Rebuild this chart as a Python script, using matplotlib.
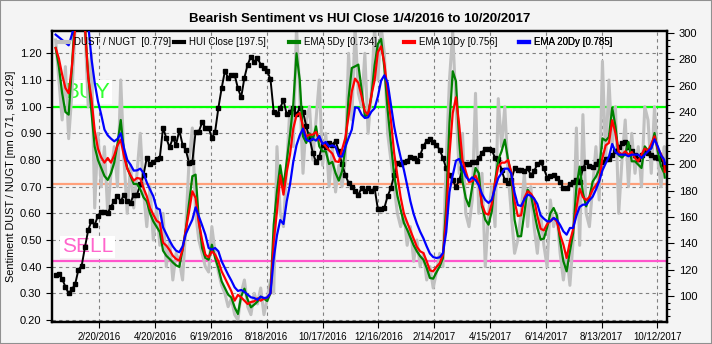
import matplotlib
matplotlib.use('Agg')
import matplotlib.pyplot as plt
import matplotlib.ticker as mticker
import pandas as pd
from matplotlib.lines import Line2D
from matplotlib.patches import Rectangle

plt.rcParams['font.family'] = ['Liberation Sans', 'DejaVu Sans']

start_date = '2016-01-04'
end_date = '2017-10-20'

# half-weekly readings (every 3.5 days from 2016-01-04) plus the final day 2017-10-20
hui_close = [116, 117, 113, 107, 102, 105, 109, 120, 123, 137,
             150, 157, 154, 161, 164, 164, 163, 168, 172, 176,
             172, 177, 172, 171, 177, 177, 185, 192, 205, 200,
             202, 204, 205, 228, 220, 213, 220, 215, 226, 215,
             211, 201, 202, 225, 225, 232, 228, 228, 220, 225,
             243, 258, 271, 266, 268, 268, 258, 251, 266, 276,
             282, 278, 281, 276, 273, 271, 265, 240, 238, 243,
             249, 238, 240, 243, 238, 243, 240, 229, 220, 209,
             202, 206, 215, 213, 216, 215, 218, 210, 200, 192,
             186, 183, 180, 177, 182, 180, 182, 180, 182, 166,
             166, 167, 176, 182, 192, 201, 200, 202, 203, 206,
             205, 203, 207, 214, 218, 219, 217, 215, 211, 205,
             197, 192, 188, 183, 188, 197, 200, 200, 202, 202,
             205, 209, 212, 212, 211, 205, 204, 196, 188, 186,
             188, 197, 196, 196, 195, 197, 192, 195, 200, 202,
             197, 190, 191, 192, 190, 187, 182, 182, 185, 187,
             188, 187, 197, 202, 199, 198, 200, 203, 202, 204,
             204, 207, 210, 213, 216, 217, 213, 210, 207, 204,
             207, 210, 209, 207, 206, 205, 204, 200,
             197.5]

ema5 = [1.22, 1.15, 1.05, 0.98, 0.97, 1.15, 1.35, 1.40, 1.40, 1.30,
        1.12, 0.98, 0.85, 0.80, 0.77, 0.74, 0.725, 0.75, 0.79, 0.86,
        0.95, 0.83, 0.77, 0.74, 0.71, 0.71, 0.69, 0.66, 0.645, 0.60,
        0.57, 0.55, 0.53, 0.46, 0.441, 0.429, 0.416, 0.405, 0.399, 0.464,
        0.539, 0.639, 0.739, 0.745, 0.576, 0.47, 0.4325, 0.426, 0.4825, 0.4325,
        0.395, 0.345, 0.32, 0.295, 0.284, 0.2475, 0.2225, 0.289, 0.3175, 0.276,
        0.2475, 0.2575, 0.269, 0.2875, 0.28, 0.271, 0.30, 0.5575, 0.6825, 0.78,
        0.70, 0.795, 0.895, 1.0075, 1.20, 1.10, 0.889, 0.864, 0.90, 0.876,
        0.926, 0.851, 0.8325, 0.8325, 0.785, 0.7925, 0.751, 0.7225, 0.7575, 0.845,
        1.0325, 1.145, 1.151, 1.1575, 1.064, 0.964, 0.97, 1.039, 1.155, 1.235,
        1.254, 1.145, 0.989, 0.864, 0.745, 0.666, 0.614, 0.564, 0.539, 0.51,
        0.48, 0.4575, 0.439, 0.426, 0.395, 0.3575, 0.355, 0.379, 0.401, 0.4325,
        0.6325, 0.939, 1.1325, 1.095, 0.87, 0.72, 0.6575, 0.626, 0.70, 0.77,
        0.751, 0.625, 0.576, 0.5575, 0.6075, 0.72, 0.801, 0.8325, 0.876, 0.801,
        0.745, 0.576, 0.514, 0.514, 0.601, 0.689, 0.67, 0.6075, 0.545, 0.5025,
        0.505, 0.5475, 0.60, 0.62, 0.5925, 0.495, 0.42, 0.3825, 0.4575, 0.526,
        0.70, 0.775, 0.676, 0.626, 0.661, 0.719, 0.7375, 0.764, 0.881, 0.8725,
        0.886, 0.996, 0.926, 0.8175, 0.809, 0.8225, 0.8675, 0.795, 0.795, 0.7825,
        0.77, 0.851, 0.835, 0.844, 0.901, 0.8325, 0.776, 0.75,
        0.734]

ema10 = [1.22, 1.18, 1.12, 1.07, 1.05, 1.15, 1.30, 1.40, 1.40, 1.30,
         1.11, 1.03, 0.91, 0.8425, 0.81, 0.79, 0.8075, 0.79, 0.8175, 0.855,
         0.876, 0.814, 0.7675, 0.7425, 0.7225, 0.7325, 0.73, 0.695, 0.664, 0.62,
         0.595, 0.5725, 0.564, 0.49, 0.479, 0.4625, 0.441, 0.429, 0.4225, 0.464,
         0.539, 0.6075, 0.6825, 0.6575, 0.564, 0.50, 0.445, 0.435, 0.4575, 0.445,
         0.42, 0.3825, 0.3575, 0.3325, 0.3075, 0.2725, 0.294, 0.285, 0.2725, 0.26,
         0.2675, 0.27, 0.281, 0.2725, 0.28, 0.284, 0.30, 0.495, 0.6075, 0.7425,
         0.67, 0.755, 0.82, 0.9175, 0.9675, 0.976, 0.926, 0.8875, 0.895, 0.895,
         0.905, 0.876, 0.864, 0.851, 0.836, 0.824, 0.795, 0.7925, 0.839, 0.8825,
         0.964, 1.0575, 1.105, 1.089, 1.039, 0.9825, 0.97, 1.041, 1.099, 1.204,
         1.226, 1.1625, 1.0575, 0.95, 0.826, 0.741, 0.66, 0.599, 0.566, 0.535,
         0.505, 0.474, 0.4575, 0.451, 0.42, 0.386, 0.3825, 0.399, 0.4125, 0.445,
         0.5825, 0.82, 0.976, 1.035, 0.93, 0.80, 0.7575, 0.7175, 0.72, 0.741,
         0.714, 0.6325, 0.60, 0.595, 0.635, 0.714, 0.775, 0.79, 0.79, 0.80,
         0.754, 0.645, 0.59, 0.5925, 0.6575, 0.6825, 0.674, 0.655, 0.59, 0.5425,
         0.536, 0.56, 0.571, 0.5825, 0.569, 0.519, 0.4825, 0.4325, 0.494, 0.54,
         0.62, 0.6925, 0.661, 0.649, 0.661, 0.689, 0.705, 0.7225, 0.8075, 0.855,
         0.864, 0.949, 0.90, 0.831, 0.82, 0.8325, 0.82, 0.83, 0.8075, 0.795,
         0.82, 0.8425, 0.834, 0.86, 0.889, 0.8425, 0.8225, 0.79,
         0.756]

ema20 = [1.27, 1.26, 1.25, 1.24, 1.23, 1.27, 1.32, 1.36, 1.38, 1.36,
         1.31, 1.18, 1.09, 1.02, 0.97, 0.914, 0.8925, 0.88, 0.87, 0.879,
         0.90, 0.845, 0.80, 0.7825, 0.76, 0.761, 0.7675, 0.751, 0.716, 0.689,
         0.664, 0.62, 0.614, 0.5475, 0.5225, 0.4975, 0.476, 0.46, 0.454, 0.476,
         0.5225, 0.55, 0.576, 0.6225, 0.589, 0.555, 0.52, 0.47, 0.464, 0.47,
         0.4575, 0.42, 0.395, 0.37, 0.3475, 0.3225, 0.309, 0.3125, 0.306, 0.295,
         0.285, 0.2825, 0.276, 0.2875, 0.2825, 0.284, 0.30, 0.43, 0.5175, 0.575,
         0.56, 0.645, 0.7075, 0.7925, 0.855, 0.8925, 0.9175, 0.876, 0.87, 0.88,
         0.8725, 0.89, 0.86, 0.8675, 0.851, 0.855, 0.849, 0.814, 0.8125, 0.849,
         0.8825, 0.914, 0.9975, 0.995, 0.97, 0.9575, 0.96, 0.981, 0.994, 1.0375,
         1.0975, 1.1175, 1.09, 1.0075, 0.926, 0.864, 0.81, 0.7625, 0.705, 0.645,
         0.5975, 0.561, 0.531, 0.506, 0.476, 0.449, 0.436, 0.4325, 0.435, 0.451,
         0.53, 0.68, 0.7425, 0.7975, 0.804, 0.77, 0.739, 0.7225, 0.735, 0.725,
         0.705, 0.6725, 0.65, 0.639, 0.651, 0.695, 0.7325, 0.751, 0.7675, 0.7675,
         0.749, 0.6775, 0.631, 0.6275, 0.6525, 0.67, 0.666, 0.655, 0.635, 0.5925,
         0.58, 0.57, 0.57, 0.5825, 0.575, 0.556, 0.5325, 0.52, 0.545, 0.545,
         0.591, 0.624, 0.6325, 0.6325, 0.649, 0.6625, 0.689, 0.72, 0.761, 0.7875,
         0.8125, 0.86, 0.83, 0.82, 0.82, 0.82, 0.814, 0.82, 0.82, 0.82,
         0.8075, 0.82, 0.8325, 0.844, 0.8775, 0.851, 0.8175, 0.80,
         0.785]

dust_nugt = [1.25, 1.10, 0.95, 1.15, 0.88, 1.05, 1.30, 1.40, 1.35, 1.30, 1.00, 1.20, 0.62, 0.90, 0.70, 0.85,
             0.60, 0.75, 0.85, 0.70, 1.10, 0.80, 0.60, 0.78, 0.62, 0.75, 0.90, 0.68, 0.55, 0.70, 0.50, 0.62,
             0.48, 0.60, 0.40, 0.50, 0.35, 0.45, 0.42, 0.35, 0.55, 0.80, 0.92, 0.60, 0.50, 0.45, 0.40, 0.38,
             0.55, 0.45, 0.38, 0.33, 0.30, 0.25, 0.28, 0.22, 0.20, 0.30, 0.35, 0.25, 0.22, 0.30, 0.26, 0.32,
             0.22, 0.28, 0.35, 0.30, 0.85, 0.60, 0.55, 0.78, 1.00, 0.85, 1.30, 1.05, 0.75, 0.95, 1.00, 0.80,
             0.95, 1.10, 0.78, 0.90, 0.70, 0.85, 0.68, 0.78, 0.70, 0.80, 1.20, 0.95, 1.30, 1.05, 1.00, 1.20,
             0.90, 1.05, 1.30, 1.10, 1.30, 1.20, 0.90, 0.80, 0.70, 0.60, 0.55, 0.60, 0.48, 0.55, 0.42, 0.50,
             0.40, 0.45, 0.35, 0.40, 0.32, 0.38, 0.45, 0.40, 0.80, 1.10, 1.28, 1.00, 0.75, 0.90, 0.60, 0.55,
             0.65, 1.05, 0.60, 0.75, 0.40, 0.60, 0.70, 0.55, 1.03, 0.85, 1.00, 0.75, 0.60, 0.45, 0.50, 0.60,
             0.75, 0.55, 0.70, 0.55, 0.45, 0.60, 0.48, 0.40, 0.65, 0.55, 0.60, 0.45, 0.35, 0.45, 0.33, 0.50,
             0.92, 0.48, 0.97, 0.60, 0.55, 0.70, 0.85, 0.65, 1.17, 0.80, 1.10, 0.85, 1.00, 0.60, 0.80, 0.95,
             0.70, 0.90, 0.75, 0.85, 0.70, 1.00, 0.95, 0.75, 1.00, 0.80, 0.70, 0.85, 0.779]

sent_mean = 0.71
sent_sd = 0.29

tick_labels = ['2/20/2016', '4/20/2016', '6/19/2016', '8/18/2016', '10/17/2016', '12/16/2016',
               '2/14/2017', '4/15/2017', '6/14/2017', '8/13/2017', '10/12/2017']

legend_labels = ['DUST / NUGT  [0.779]', 'HUI Close [197.5]', 'EMA 5Dy [0.734]',
                 'EMA 10Dy [0.756]', 'EMA 20Dy [0.785]']

dates = list(pd.date_range(start_date, periods=188, freq='84h')) + [pd.Timestamp(end_date)]
tick_dates = [pd.to_datetime(t, format='%m/%d/%Y') for t in tick_labels]

BG = '#f4f4f4'
fig = plt.figure(figsize=(7.12, 3.44), dpi=100, facecolor=BG)
pos = [52 / 712, 22 / 344, 615 / 712, 291 / 344]
ax = fig.add_axes(pos)
ax.set_facecolor(BG)
ax2 = ax.twinx()
ax3 = fig.add_axes(pos, sharex=ax, sharey=ax, frameon=False)
ax3.axis('off')

ax.set_xlim(pd.Timestamp('2015-12-31 02:00'), pd.Timestamp('2017-10-22 10:00'))
ax.set_ylim(0.1925, 1.2836)
ax.set_yticks([0.2, 0.3, 0.4, 0.5, 0.6, 0.7, 0.8, 0.9, 1.0, 1.1, 1.2])
ax.yaxis.set_major_formatter(mticker.FormatStrFormatter('%.2f'))
ax.set_xticks(tick_dates)
ax.set_xticklabels(tick_labels)
ax.grid(True, which='major', linestyle=(0, (3, 3)), color='#808080', linewidth=0.8)
ax.set_axisbelow(True)

ax.axhline(sent_mean + sent_sd, color='#00ff00', lw=1.6, zorder=1.2)
ax.axhline(sent_mean, color='#ffa07a', lw=1.6, zorder=1.2)
ax.axhline(sent_mean - sent_sd, color='#ff55cc', lw=1.6, zorder=1.2)

ax.text(0.02, 0.79, 'BUY', transform=ax.transAxes, color='#33ff33', fontsize=16,
        va='center', ha='left', zorder=1.5,
        bbox=dict(facecolor='white', edgecolor='none', pad=1.0))
ax.text(0.016, 0.258, 'SELL', transform=ax.transAxes, color='#ff66cc', fontsize=15,
        va='center', ha='left', zorder=1.5,
        bbox=dict(facecolor='white', edgecolor='none', pad=1.0))

ax.plot(dates, dust_nugt, color='#c0c0c0', lw=2.2, zorder=2)

ax2.plot(dates, hui_close, color='black', lw=1.4, marker='s', ms=3.0, zorder=3)
ax2.set_ylim(80.2, 301.5)
ax2.set_yticks(range(100, 301, 20))
ax2.yaxis.set_minor_locator(mticker.MultipleLocator(5))

ax3.plot(dates, ema5, color='#008000', lw=1.6)
ax3.plot(dates, ema10, color='#ff0000', lw=1.6)
ax3.plot(dates, ema20, color='#0000ff', lw=1.6)

for a in (ax, ax2):
    for s in a.spines.values():
        s.set_linewidth(1.6)
        s.set_color('black')
ax.tick_params(axis='x', labelsize=7, length=4, width=0.8, direction='out')
ax.tick_params(axis='y', labelsize=8, length=4, width=0.8, direction='out')
ax2.tick_params(axis='y', which='major', labelsize=8, length=5, width=0.8, direction='out')
ax2.tick_params(axis='y', which='minor', length=2.5, width=0.8, direction='out')

ax.set_ylabel('Sentiment DUST / NUGT [mn 0.71, sd 0.29]', fontsize=7.8, labelpad=3)

fig.text(359.5 / 712, 1 - 19 / 344, 'Bearish Sentiment vs HUI Close 1/4/2016 to 10/20/2017',
         ha='center', va='center', fontsize=9.5, fontweight='bold')

colors = ['#c0c0c0', 'black', '#008000', '#ff0000', '#0000ff']
for i, (lab, c) in enumerate(zip(legend_labels, colors)):
    h = Line2D([], [], color=c, lw=3)
    leg = ax3.legend([h], [lab], loc='center left', bbox_to_anchor=(0.0114 + i * 0.187, 0.962),
                     frameon=False, fontsize=7, handlelength=1.0, handletextpad=0.5,
                     borderpad=0, borderaxespad=0)
    ax3.add_artist(leg)

fig.patches.append(Rectangle((0, 0), 1, 1, transform=fig.transFigure, fill=False,
                             edgecolor='#909090', lw=1.5))

fig.savefig('out.png', dpi=100, facecolor=BG)
